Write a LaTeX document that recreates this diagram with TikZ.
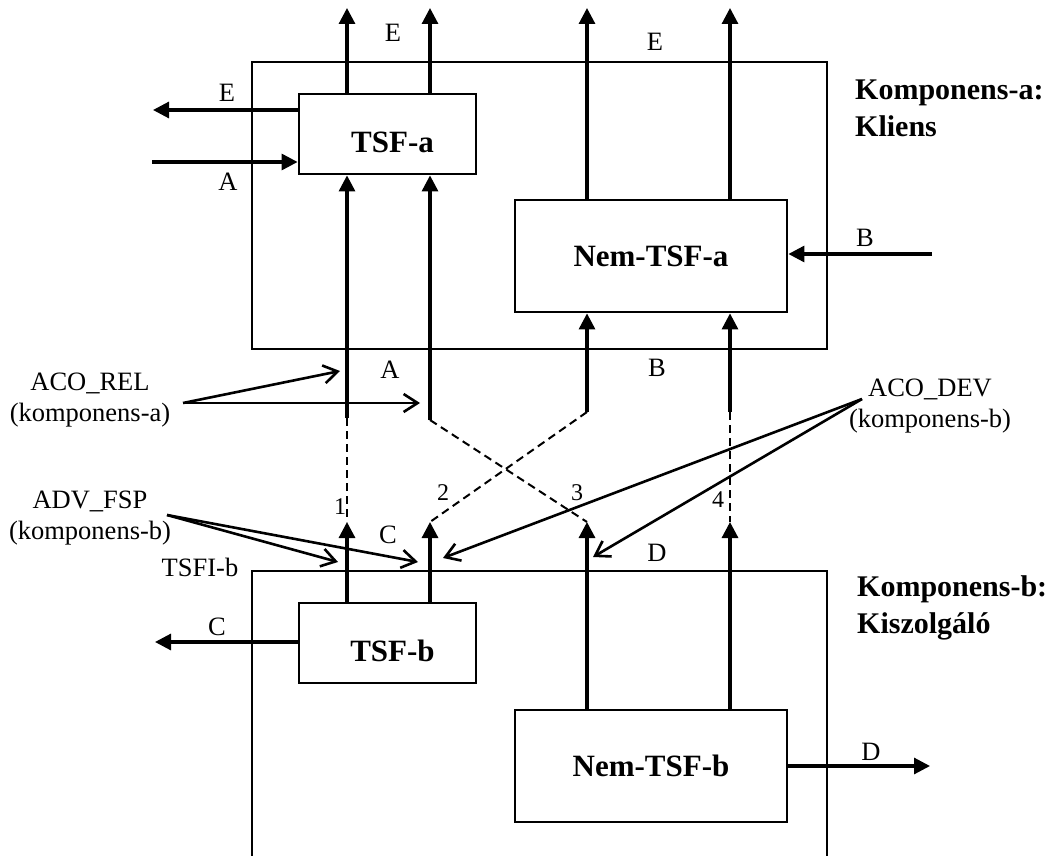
\documentclass[tikz,border=0pt]{standalone}
\usepackage{fontspec}
\setmainfont{Liberation Serif}
\usetikzlibrary{arrows.meta}
\begin{document}
\begin{tikzpicture}[x=1pt,y=-1pt,
  lbl/.style={inner sep=0pt, font=\fontsize{26.5}{30}\selectfont},
  num/.style={inner sep=0pt, font=\fontsize{24}{28}\selectfont},
  twoline/.style={inner sep=0pt, align=center, font=\fontsize{26.5}{31}\selectfont},
  comp/.style={inner sep=0pt, align=left, anchor=north west, font=\bfseries\fontsize{30}{37}\selectfont},
  boxnode/.style={draw, line width=2.8pt, inner sep=0pt, font=\bfseries\fontsize{31}{36}\selectfont},
  outer/.style={line width=2.7pt},
  arr/.style={line width=3.1pt, -{Triangle[length=16pt,width=16pt]}},
  openarr/.style={line width=2.6pt, -{Straight Barb[length=14pt,width=18pt,line width=2.6pt]}},
  dsh/.style={line width=2pt, dash pattern=on 8pt off 5pt}]
\useasboundingbox (0,0) rectangle (1060,856);

% outer component boxes
\draw[outer] (252,62) rectangle (827,349);
\draw[outer] (252,860) -- (252,571) -- (827,571) -- (827,860);

% inner boxes
\node[boxnode, minimum width=177pt, minimum height=80pt, text height=37pt] (tsfa) at (387.5,134) {\hspace*{10pt}TSF-a};
\node[boxnode, minimum width=272pt, minimum height=112pt] (nema) at (651,256) {Nem-TSF-a};
\node[boxnode, minimum width=177pt, minimum height=80pt, text height=37pt] (tsfb) at (387.5,643) {\hspace*{10pt}TSF-b};
\node[boxnode, minimum width=272pt, minimum height=112pt] (nemb) at (651,766) {Nem-TSF-b};

% component titles
\node[comp] (ka) at (855,80) {Komponens-a:\\Kliens};
\node[comp] (kb) at (857,575) {Komponens-b:\\Kiszolgáló};

% free ends
\coordinate (ea1) at (347,8);
\coordinate (ea2) at (430,8);
\coordinate (eb1) at (587,8);
\coordinate (eb2) at (730,8);
\coordinate (eout) at (153,110);
\coordinate (ain) at (152,162);
\coordinate (bin) at (932,254);
\coordinate (cout) at (155,642);
\coordinate (dout) at (930,766);
\coordinate (s1) at (347,418);
\coordinate (s2) at (430,420);
\coordinate (s3) at (587,412);
\coordinate (s4) at (730,412);
\coordinate (t1) at (347,522);
\coordinate (t2) at (430,522);
\coordinate (t3) at (587,522);
\coordinate (t4) at (730,522);

% outputs / inputs of component a
\draw[arr] (tsfa.north -| ea1) -- (ea1);
\draw[arr] (tsfa.north -| ea2) -- (ea2);
\draw[arr] (nema.north -| eb1) -- (eb1);
\draw[arr] (nema.north -| eb2) -- (eb2);
\draw[arr] (eout -| tsfa.west) -- (eout);
\draw[arr] (ain) -- (ain -| tsfa.west);
\draw[arr] (bin) -- (bin -| nema.east);

% inputs from below into component a
\draw[arr] (s1) -- (s1 |- tsfa.south);
\draw[arr] (s2) -- (s2 |- tsfa.south);
\draw[arr] (s3) -- (s3 |- nema.south);
\draw[arr] (s4) -- (s4 |- nema.south);

% dashed correspondences
\draw[dsh] (s1) -- (t1);
\draw[dsh] (s2) -- (t3);
\draw[dsh] (s3) -- (t2);
\draw[dsh] (s4) -- (t4);

% outputs of component b
\draw[arr] (t1 |- tsfb.north) -- (t1);
\draw[arr] (t2 |- tsfb.north) -- (t2);
\draw[arr] (t3 |- nemb.north) -- (t3);
\draw[arr] (t4 |- nemb.north) -- (t4);
\draw[arr] (cout -| tsfb.west) -- (cout);
\draw[arr] (dout -| nemb.east) -- (dout);

% letter labels
\node[lbl] (lE1) at (393,33) {E};
\node[lbl] (lE2) at (655,42) {E};
\node[lbl] (lE3) at (227,93) {E};
\node[lbl] (lA1) at (228,182) {A};
\node[lbl] (lB1) at (865,238) {B};
\node[lbl] (lA2) at (390,370) {A};
\node[lbl] (lB2) at (657,368) {B};
\node[lbl] (lC1) at (388,535) {C};
\node[lbl] (lD1) at (657,553) {D};
\node[lbl] (lC2) at (217,627) {C};
\node[lbl] (lD2) at (871,752) {D};
\node[lbl] (tsfib) at (200,567) {TSFI-b};

% numbers
\node[num] (n1) at (340,507) {1};
\node[num] (n2) at (443,493) {2};
\node[num] (n3) at (577,493) {3};
\node[num] (n4) at (718,500) {4};

% annotation texts
\node[twoline] (acorel) at (90,400) {ACO\_REL\\(komponens-a)};
\node[twoline] (advfsp) at (90,518) {ADV\_FSP\\(komponens-b)};
\node[twoline] (acodev) at (930,406) {ACO\_DEV\\(komponens-b)};

\coordinate (orel) at (183,403);
\coordinate (ofsp) at (167,515);
\coordinate (odev) at (862,399);
\coordinate (rel1) at (340,371);
\coordinate (rel2) at (420,403);
\coordinate (fsp1) at (338,562);
\coordinate (fsp2) at (418,562);
\coordinate (dev1) at (443,558);
\coordinate (dev2) at (593,557);

\draw[openarr] (orel) -- (rel1);
\draw[openarr] (orel) -- (rel2);
\draw[openarr] (ofsp) -- (fsp1);
\draw[openarr] (ofsp) -- (fsp2);
\draw[openarr] (odev) -- (dev1);
\draw[openarr] (odev) -- (dev2);
\end{tikzpicture}
\end{document}
